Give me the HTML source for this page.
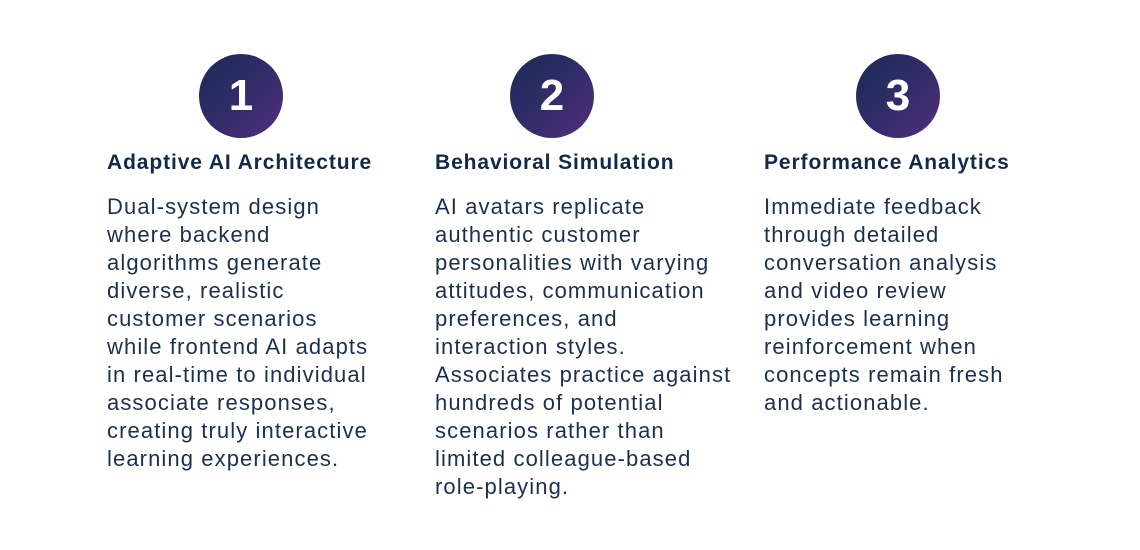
<!DOCTYPE html>
<html><head><meta charset="utf-8"><style>
body{margin:0;width:1140px;height:550px;background:#fff;position:relative;font-family:"Liberation Sans",sans-serif;color:#14294a;overflow:hidden}
.c{position:absolute;width:84px;height:84px;border-radius:50%;background:linear-gradient(135deg,#1a2a55 0%,#2e2c66 45%,#532d7e 100%);color:#fff;font-weight:bold;font-size:44px;line-height:84px;text-align:center;top:54px}
.t{position:absolute;top:151px;font-weight:bold;font-size:21px;letter-spacing:0.9px;white-space:nowrap;color:#12294a}
.b{position:absolute;top:193px;font-size:22px;letter-spacing:1.1px;line-height:28px;white-space:nowrap;color:#1a3050}
</style></head><body>
<div class="c" style="left:199px">1</div>
<div class="c" style="left:510px">2</div>
<div class="c" style="left:856px">3</div>
<div class="t" style="left:107px">Adaptive AI Architecture</div>
<div class="t" style="left:435px">Behavioral Simulation</div>
<div class="t" style="left:764px">Performance Analytics</div>
<div class="b" style="left:107px">Dual-system design<br>where backend<br>algorithms generate<br>diverse, realistic<br>customer scenarios<br>while frontend AI adapts<br>in real-time to individual<br>associate responses,<br>creating truly interactive<br>learning experiences.</div>
<div class="b" style="left:435px">AI avatars replicate<br>authentic customer<br>personalities with varying<br>attitudes, communication<br>preferences, and<br>interaction styles.<br>Associates practice against<br>hundreds of potential<br>scenarios rather than<br>limited colleague-based<br>role-playing.</div>
<div class="b" style="left:764px">Immediate feedback<br>through detailed<br>conversation analysis<br>and video review<br>provides learning<br>reinforcement when<br>concepts remain fresh<br>and actionable.</div>
</body></html>
